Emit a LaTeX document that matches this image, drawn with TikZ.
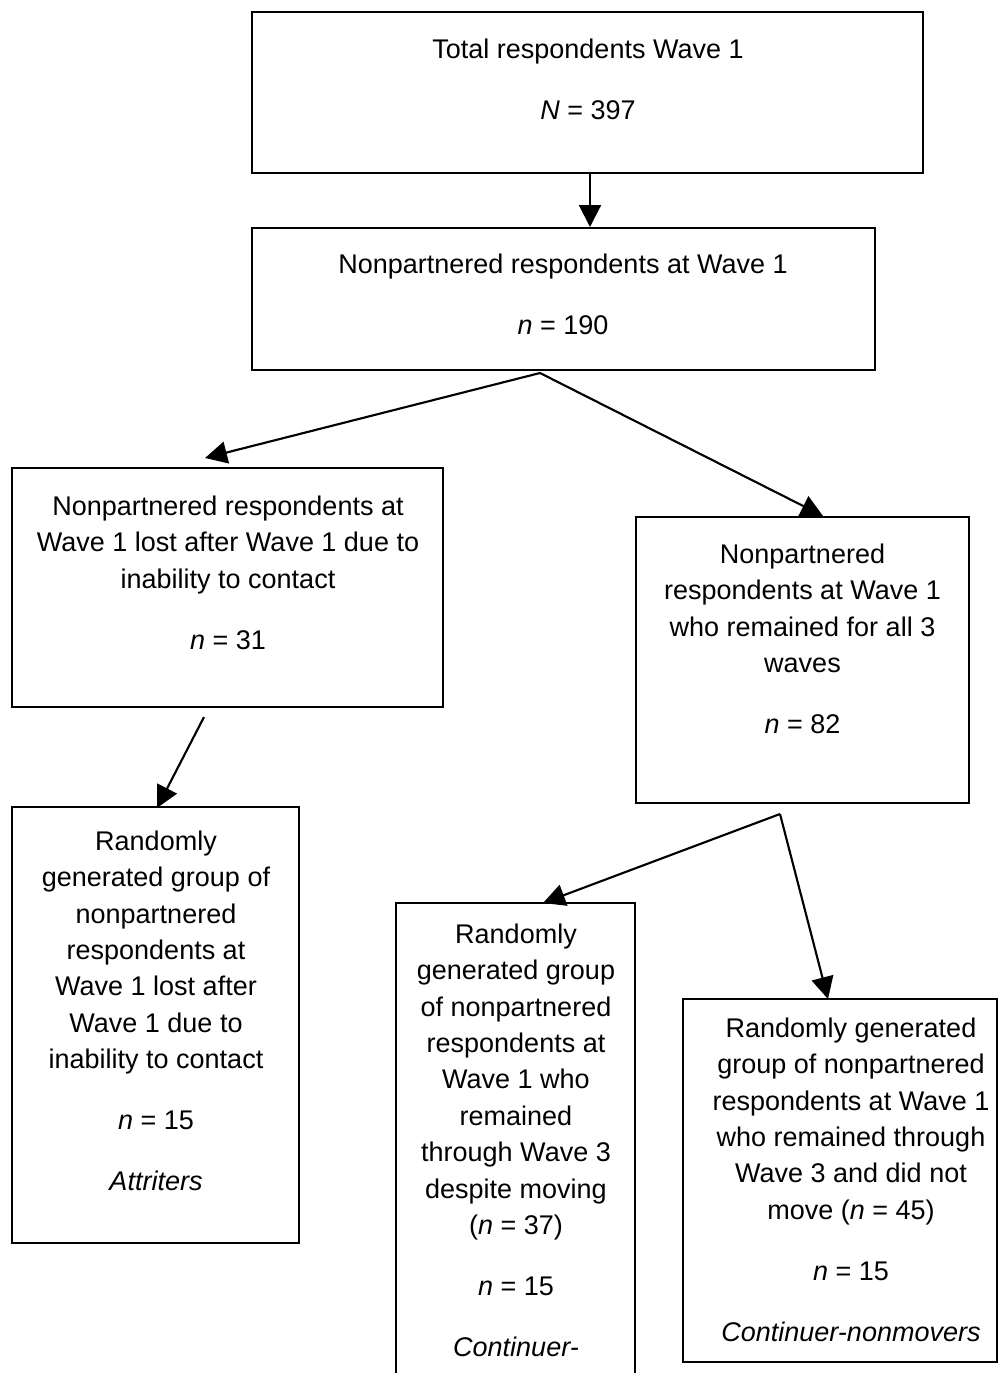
\documentclass[tikz,border=0pt]{standalone}
\usepackage{fontspec}
\setmainfont{Liberation Sans}
\usetikzlibrary{arrows.meta,calc}
\begin{document}
\begin{tikzpicture}[x=0.4pt,y=-0.4pt,
  box/.style={draw, line width=0.8pt, inner sep=0pt, rectangle},
  txt/.style={anchor=north, inner sep=0pt, align=center, font=\fontsize{10.8pt}{14.56pt}\selectfont},
  arr/.style={line width=0.85pt, -{Triangle[length=8.8pt,width=8.8pt]}}]
\useasboundingbox (0,0) rectangle (1004,1373);
\def\pg{9.84pt}
% boxes
\node[box, minimum width=268.4pt, minimum height=64.4pt] (b1) at (587.5,92.5) {};
\node[box, minimum width=249.2pt, minimum height=56.8pt] (b2) at (563.5,299) {};
\node[box, minimum width=172.4pt, minimum height=95.6pt] (b3) at (227.5,587.5) {};
\node[box, minimum width=133.2pt, minimum height=114.4pt] (b4) at (802.5,660) {};
\node[box, minimum width=114.8pt, minimum height=174.4pt] (b5) at (155.5,1025) {};
\node[box, minimum width=95.6pt, minimum height=196.8pt] (b6) at (515.5,1149) {};
\node[box, minimum width=125.6pt, minimum height=145.2pt] (b7) at (840,1180.5) {};
% texts
\node[txt] (t1) at (588,38.3) {Total respondents Wave 1\\[\pg]\textit{N} = 397};
\node[txt] (t2) at (563,253.3) {Nonpartnered respondents at Wave 1\\[\pg]\textit{n} = 190};
\node[txt] (t3) at (228,495.3) {Nonpartnered respondents at\\Wave 1 lost after Wave 1 due to\\inability to contact\\[\pg]\textit{n} = 31};
\node[txt] (t4) at (802.5,543.3) {Nonpartnered\\respondents at Wave 1\\who remained for all 3\\waves\\[\pg]\textit{n} = 82};
\node[txt] (t5) at (156,830.3) {Randomly\\generated group of\\nonpartnered\\respondents at\\Wave 1 lost after\\Wave 1 due to\\inability to contact\\[\pg]\textit{n} = 15\\[\pg]\textit{Attriters}};
\node[txt] (t6) at (516,923.3) {Randomly\\generated group\\of nonpartnered\\respondents at\\Wave 1 who\\remained\\through Wave 3\\despite moving\\(\textit{n} = 37)\\[\pg]\textit{n} = 15\\[\pg]\textit{Continuer-}};
\node[txt] (t7) at (851,1017.3) {Randomly generated\\group of nonpartnered\\respondents at Wave 1\\who remained through\\Wave 3 and did not\\move (\textit{n} = 45)\\[\pg]\textit{n} = 15\\[\pg]\textit{Continuer-nonmovers}};
% connector start points
\coordinate (s2) at ($(b2.south)+(-23.5,2)$);
\coordinate (s3) at ($(b3.south)+(-23.5,9)$);
\coordinate (s4) at ($(b4.south)+(-22.5,10)$);
% connectors
\draw[arr] ([xshift=1pt]b1.south) -- ([xshift=1pt]b1.south |- b2.north);
\draw[arr] (s2) -- ($(b3.north)+(-22.5,-9)$);
\draw[arr] (s2) -- ($(b4.north)+(20.5,0)$);
\draw[arr] (s3) -- ($(b5.north)+(1.5,2)$);
\draw[arr] (s4) -- ($(b6.north)+(27.5,1)$);
\draw[arr] (s4) -- ($(b7.north)+(-12,1)$);
\end{tikzpicture}
\end{document}
